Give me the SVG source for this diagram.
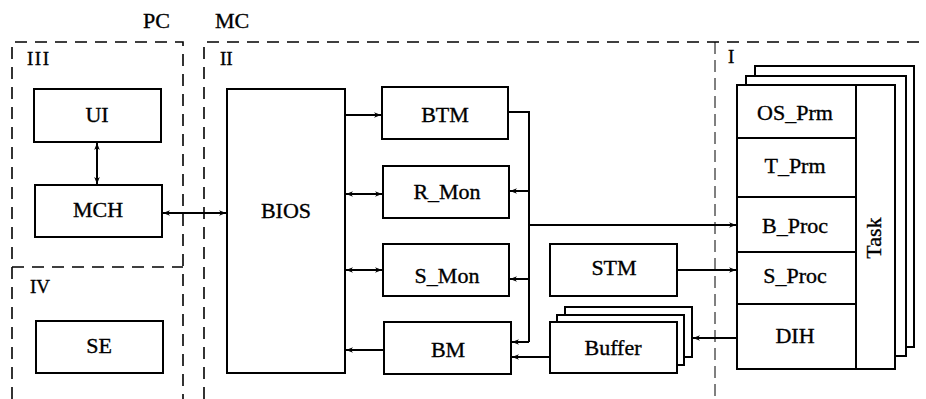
<svg xmlns="http://www.w3.org/2000/svg" width="926" height="399" viewBox="0 0 926 399">
<style>
text{font-family:"Liberation Serif","Times New Roman",serif;fill:#000;font-size:22px;stroke:#000;stroke-width:0.35}
.c{text-anchor:middle}
.r{font-size:19px}
.box{fill:#fff;stroke:#000;stroke-width:2}
.dash{fill:none;stroke:#000;stroke-width:1.6;stroke-dasharray:12 8}
.thin{fill:none;stroke:#000;stroke-width:1;stroke-dasharray:12 6}
.ln{fill:none;stroke:#000;stroke-width:2}
</style>
<defs>
<marker id="a" viewBox="0 0 10 10" refX="10" refY="5" markerWidth="7" markerHeight="7" orient="auto-start-reverse" markerUnits="userSpaceOnUse">
<path d="M0,1 L10,5 L0,9 L3,5 Z" fill="#000"/>
</marker>
</defs>
<rect width="926" height="399" fill="#fff"/>
<g id="regions">
<text x="143" y="28">PC</text>
<text x="215" y="28">MC</text>
<path class="dash" d="M12,399 V42 H183 V399"/>
<path class="dash" d="M12,267 H183"/>
<path class="dash" d="M204,399 V42 H926"/>
<path class="thin" d="M715,42 V399"/>
<text class="r" x="27" y="65" textLength="22" lengthAdjust="spacing">III</text>
<text class="r" x="220" y="65">II</text>
<text class="r" x="30" y="293">IV</text>
<text class="r" x="728" y="63">I</text>
</g>
<g id="UI"><rect class="box" x="34" y="89" width="127" height="53"/><text class="c" x="97" y="122">UI</text></g>
<g id="MCH"><rect class="box" x="35" y="185" width="127" height="52"/><text class="c" x="98" y="217">MCH</text></g>
<g id="SE"><rect class="box" x="36" y="321" width="127" height="52"/><text class="c" x="99" y="353">SE</text></g>
<g id="BIOS"><rect class="box" x="227" y="89" width="118" height="284"/><text class="c" x="286" y="218">BIOS</text></g>
<g id="BTM"><rect class="box" x="382" y="87" width="126" height="52"/><text class="c" x="445" y="122">BTM</text></g>
<g id="R_Mon"><rect class="box" x="383" y="166" width="126" height="52"/><text class="c" x="447" y="199">R_Mon</text></g>
<g id="S_Mon"><rect class="box" x="383" y="244" width="126" height="52"/><text class="c" x="447" y="283">S_Mon</text></g>
<g id="BM"><rect class="box" x="384" y="322" width="127" height="52"/><text class="c" x="448" y="357">BM</text></g>
<g id="STM"><rect class="box" x="550" y="244" width="127" height="52"/><text class="c" x="614" y="275">STM</text></g>
<g id="Buffer">
<rect class="box" x="565" y="307" width="127" height="50"/>
<rect class="box" x="557" y="315" width="127" height="50"/>
<rect class="box" x="550" y="322" width="127" height="51"/>
<text class="c" x="613" y="355">Buffer</text>
</g>
<g id="Task">
<rect class="box" x="755" y="66" width="159" height="281"/>
<rect class="box" x="746" y="76" width="160" height="280"/>
<rect class="box" x="737" y="85" width="158" height="284"/>
<line class="ln" x1="856" y1="85" x2="856" y2="369"/>
<text x="881" y="238" text-anchor="middle" transform="rotate(-90 881 238)">Task</text>
</g>
<g id="OS_Prm"><rect class="box" x="737" y="85" width="119" height="53"/><text class="c" x="795" y="120">OS_Prm</text></g>
<g id="T_Prm"><rect class="box" x="737" y="138" width="119" height="59"/><text class="c" x="795" y="173">T_Prm</text></g>
<g id="B_Proc"><rect class="box" x="737" y="197" width="119" height="55"/><text class="c" x="795" y="233">B_Proc</text></g>
<g id="S_Proc"><rect class="box" x="737" y="252" width="119" height="52"/><text class="c" x="795" y="283">S_Proc</text></g>
<g id="DIH"><rect class="box" x="737" y="304" width="119" height="65"/><text class="c" x="795" y="343">DIH</text></g>
<g id="connectors">
<line class="ln" x1="97" y1="143" x2="97" y2="184" marker-start="url(#a)" marker-end="url(#a)"/>
<line class="ln" x1="163" y1="213" x2="226" y2="213" marker-start="url(#a)" marker-end="url(#a)"/>
<line class="ln" x1="345" y1="115" x2="381" y2="115" marker-end="url(#a)"/>
<line class="ln" x1="346" y1="194" x2="382" y2="194" marker-start="url(#a)" marker-end="url(#a)"/>
<line class="ln" x1="346" y1="270" x2="382" y2="270" marker-start="url(#a)" marker-end="url(#a)"/>
<line class="ln" x1="384" y1="350" x2="346" y2="350" marker-end="url(#a)"/>
<path class="ln" d="M508,112 H529 V342"/>
<line class="ln" x1="529" y1="191" x2="510" y2="191" marker-end="url(#a)"/>
<line class="ln" x1="529" y1="279" x2="510" y2="279" marker-end="url(#a)"/>
<line class="ln" x1="529" y1="342" x2="512" y2="342" marker-end="url(#a)"/>
<line class="ln" x1="529" y1="225" x2="736" y2="225" marker-end="url(#a)"/>
<line class="ln" x1="677" y1="270" x2="736" y2="270" marker-end="url(#a)"/>
<line class="ln" x1="737" y1="338" x2="693" y2="338" marker-end="url(#a)"/>
<line class="ln" x1="550" y1="357" x2="512" y2="357" marker-end="url(#a)"/>
</g>
</svg>
